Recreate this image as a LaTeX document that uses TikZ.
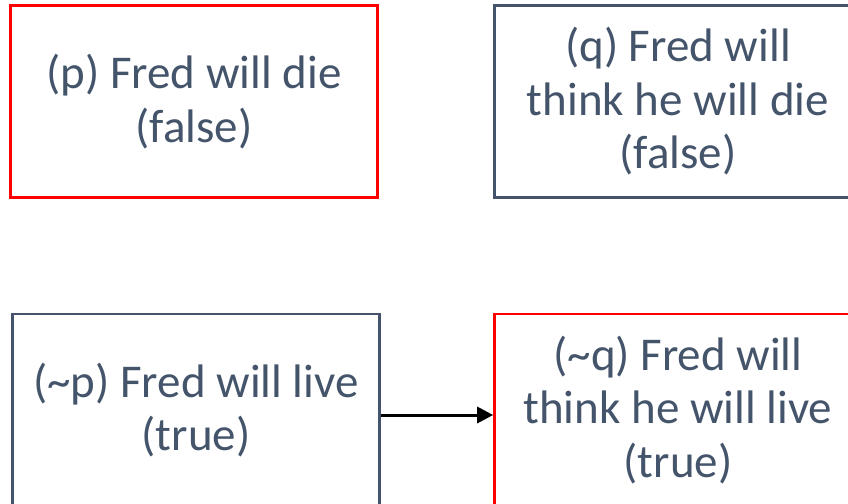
\documentclass[tikz,border=0pt]{standalone}
\usepackage{fontspec}
\setmainfont{Carlito}
\usetikzlibrary{arrows.meta}
\definecolor{slate}{HTML}{44546A}
\definecolor{alertred}{HTML}{FF0000}
\tikzset{
  card/.style={draw, line width=2.6pt, minimum width=367pt, minimum height=192pt,
    align=center, text=slate, font=\fontsize{47}{53.5}\selectfont, inner sep=0pt},
  falsecard/.style={card, draw=alertred},
  plaincard/.style={card, draw=slate},
  link/.style={draw=black, line width=3pt, -{Triangle[length=16pt,width=16pt]}}
}
\begin{document}
\begin{tikzpicture}[x=1pt,y=1pt]
  \useasboundingbox (0,0) rectangle (848,-503);
  \node[falsecard] (p) at (194,-101.5) {(p) Fred will die\\(false)};
  \node[plaincard] (q) at (678,-101.5) {(q) Fred will\\think he will die\\(false)};
  \node[plaincard] (np) at (196,-410) {(\textasciitilde p) Fred will live\\(true)};
  \node[falsecard] (nq) at (678,-410) {(\textasciitilde q) Fred will\\think he will live\\(true)};
  \draw[link] (np.east |- 0,-415) -- (nq.west |- 0,-415);
\end{tikzpicture}
\end{document}
